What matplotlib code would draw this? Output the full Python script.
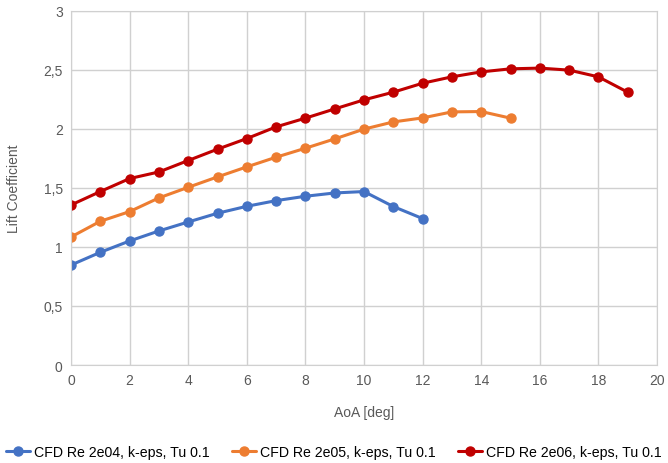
import matplotlib
matplotlib.use("Agg")
import matplotlib.pyplot as plt
from matplotlib.ticker import FuncFormatter

plt.rcParams['font.family'] = ['Liberation Sans', 'DejaVu Sans']

aoa_re4 = list(range(0, 13))
cl_re4 = [0.847, 0.955, 1.051, 1.136, 1.212, 1.286, 1.345, 1.393, 1.43, 1.458, 1.47, 1.343, 1.241]

aoa_re5 = list(range(0, 16))
cl_re5 = [1.085, 1.218, 1.30, 1.416, 1.506, 1.594, 1.679, 1.761, 1.837, 1.916, 1.999,
          2.06, 2.094, 2.145, 2.148, 2.092]

aoa_re6 = list(range(0, 20))
cl_re6 = [1.356, 1.47, 1.58, 1.636, 1.733, 1.829, 1.919, 2.018, 2.092, 2.17, 2.247,
          2.312, 2.388, 2.442, 2.484, 2.51, 2.516, 2.499, 2.442, 2.312]

labels = ['CFD Re 2e04, k-eps, Tu 0.1',
          'CFD Re 2e05, k-eps, Tu 0.1',
          'CFD Re 2e06, k-eps, Tu 0.1']
colors = ['#4472C4', '#ED7D31', '#C00000']

fig = plt.figure(figsize=(6.68, 4.64), dpi=100)
ax = fig.add_axes([71 / 668, 1 - 366 / 464, 586 / 668, 354 / 464])

series = [(aoa_re4, cl_re4), (aoa_re5, cl_re5), (aoa_re6, cl_re6)]
for (x, y), lab, c in zip(series, labels, colors):
    ax.plot(x, y, color=c, lw=2.2, marker='o', ms=6.5, label=lab, solid_capstyle='round')

ax.set_xlim(0, 20)
ax.set_ylim(0, 3)
ax.set_xticks(range(0, 21, 2))
ax.set_yticks([0, 0.5, 1, 1.5, 2, 2.5, 3])
ax.yaxis.set_major_formatter(FuncFormatter(lambda v, p: ('%g' % v).replace('.', ',')))
ax.grid(True, color='#d0d0d0', lw=1)
ax.set_axisbelow(True)
for s in ax.spines.values():
    s.set_color('#d0d0d0')
ax.tick_params(length=0, labelsize=10, colors='#595959', pad=6)

ax.set_xlabel('AoA [deg]', fontsize=10, color='#595959', labelpad=13)
ax.set_ylabel('Lift Coefficient', fontsize=10, color='#595959', labelpad=16)

fig.legend(loc='lower center', ncol=3, bbox_to_anchor=(0.5, -0.018), frameon=False,
           fontsize=10.2, handlelength=1.7, columnspacing=1.6, handletextpad=0.25)

fig.savefig('out.png', dpi=100)
